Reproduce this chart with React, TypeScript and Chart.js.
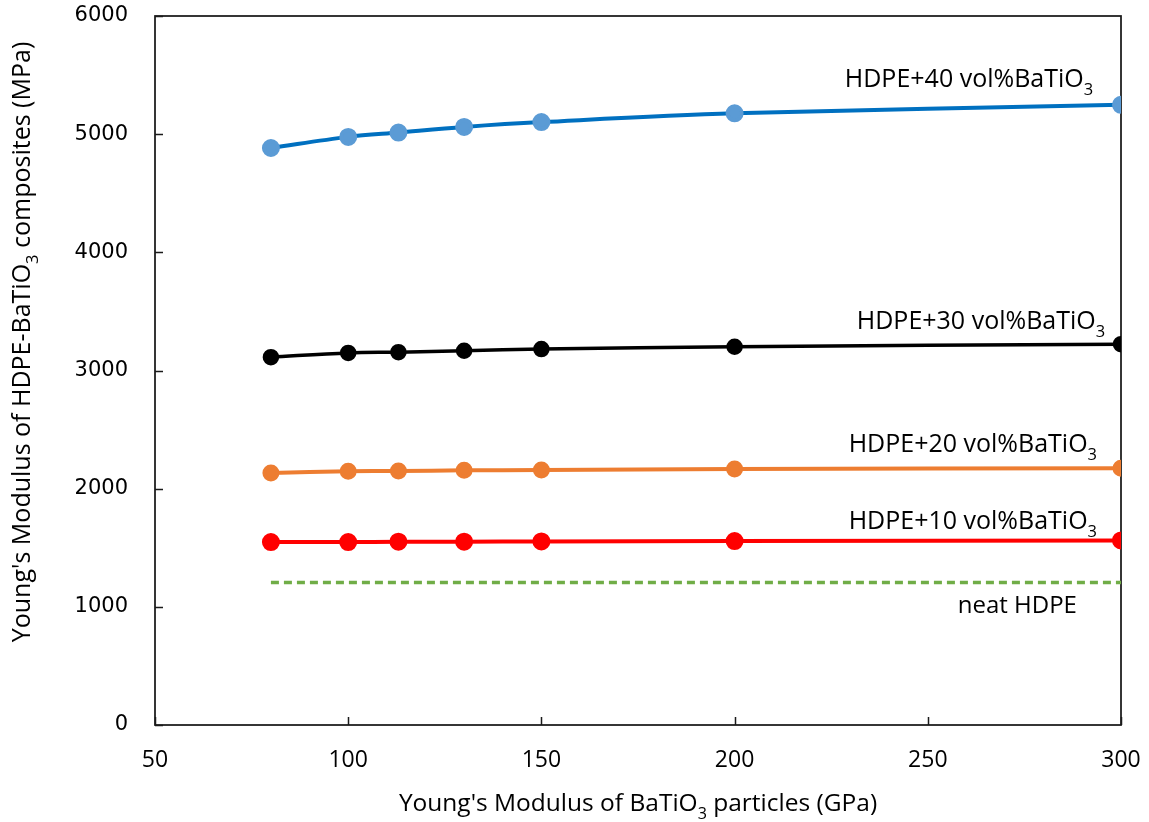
import React, { useEffect, useRef } from "react";
import { Chart, registerables } from "chart.js";

Chart.register(...registerables);

// ---- data ----
const xValues = [80, 100, 113, 130, 150, 200, 300];
const hdpe40 = [4883, 4977, 5014, 5061, 5102, 5176, 5248];
const hdpe30 = [3113, 3149, 3155, 3167, 3181, 3201, 3223];
const hdpe20 = [2133, 2147, 2150, 2155, 2158, 2167, 2172];
const hdpe10 = [1548, 1548, 1551, 1551, 1553, 1557, 1562];
const neatHdpe = [1205, 1205, 1205, 1205, 1205, 1205, 1205];

const xTickValues = [50, 100, 150, 200, 250, 300];
const yTickValues = [0, 1000, 2000, 3000, 4000, 5000, 6000];

const seriesNames = [
  "HDPE+40 vol%BaTiO3",
  "HDPE+30 vol%BaTiO3",
  "HDPE+20 vol%BaTiO3",
  "HDPE+10 vol%BaTiO3",
  "neat HDPE",
];

// label text parts (main, subscript) and anchor (right edge x, baseline y) in data units
const labelParts: [string, string][] = [
  ["HDPE+40 vol%BaTiO", "3"],
  ["HDPE+30 vol%BaTiO", "3"],
  ["HDPE+20 vol%BaTiO", "3"],
  ["HDPE+10 vol%BaTiO", "3"],
  ["neat HDPE", ""],
];
const labelAnchorX = [292.8, 295.9, 293.8, 293.8, 288.6];
const labelAnchorY = [5398, 3347, 2314, 1661, 949];
const labelSizes = [25, 25, 25, 25, 24];

const xTitleParts: [string, string, string] = ["Young's Modulus of BaTiO", "3", " particles (GPa)"];
const yTitleParts: [string, string, string] = ["Young's Modulus of HDPE-BaTiO", "3", " composites (MPa)"];

const MAIN_FONT = "'Open Sans', 'Noto Sans', sans-serif";

function drawSubText(
  ctx: CanvasRenderingContext2D,
  parts: string[],
  x: number,
  y: number,
  size: number,
  align: "left" | "right" | "center"
) {
  const subSize = size * 0.66;
  const widths: number[] = [];
  parts.forEach((p, i) => {
    ctx.font = `${i % 2 === 1 ? subSize : size}px ${MAIN_FONT}`;
    widths.push(ctx.measureText(p).width);
  });
  const total = widths.reduce((a, b) => a + b, 0);
  let cx = align === "left" ? x : align === "right" ? x - total : x - total / 2;
  ctx.textAlign = "left";
  ctx.textBaseline = "alphabetic";
  parts.forEach((p, i) => {
    const isSub = i % 2 === 1;
    ctx.font = `${isSub ? subSize : size}px ${MAIN_FONT}`;
    ctx.fillText(p, cx, isSub ? y + size * 0.32 : y);
    cx += widths[i];
  });
}

const overlayPlugin = {
  id: "overlay",
  beforeDatasetsDraw(chart: any) {
    const { ctx, chartArea } = chart;
    const xs = chart.scales.x;
    const ys = chart.scales.y;
    ctx.save();
    ctx.strokeStyle = "#1a1a1a";
    ctx.lineWidth = 1.75;
    ctx.strokeRect(chartArea.left, chartArea.top, chartArea.right - chartArea.left, chartArea.bottom - chartArea.top);
    ctx.lineWidth = 1.5;
    ctx.beginPath();
    yTickValues.forEach((v) => {
      const py = Math.round(ys.getPixelForValue(v)) + 0.5;
      ctx.moveTo(chartArea.left, py);
      ctx.lineTo(chartArea.left + 8, py);
    });
    xTickValues.forEach((v) => {
      const px = Math.round(xs.getPixelForValue(v)) + 0.5;
      ctx.moveTo(px, chartArea.bottom);
      ctx.lineTo(px, chartArea.bottom - 8);
    });
    ctx.stroke();
    ctx.restore();
  },
  afterDraw(chart: any) {
    const { ctx, chartArea } = chart;
    const xs = chart.scales.x;
    const ys = chart.scales.y;
    ctx.save();
    ctx.fillStyle = "#000";
    labelParts.forEach((parts, i) => {
      const px = xs.getPixelForValue(labelAnchorX[i]);
      const py = ys.getPixelForValue(labelAnchorY[i]);
      drawSubText(ctx, parts.filter((p, j) => j === 0 || p !== ""), px, py, labelSizes[i], "right");
    });
    // x title
    drawSubText(ctx, xTitleParts, (chartArea.left + chartArea.right) / 2, 811, 24.5, "center");
    // y title
    ctx.save();
    ctx.translate(30, 342);
    ctx.rotate(-Math.PI / 2);
    drawSubText(ctx, yTitleParts, 0, 0, 25, "center");
    ctx.restore();
    ctx.restore();
  },
};

function makeData(ys: number[]) {
  return xValues.map((x, i) => ({ x, y: ys[i] }));
}

export default function App() {
  const canvasRef = useRef<HTMLCanvasElement | null>(null);

  useEffect(() => {
    if (!canvasRef.current) return;
    const chart = new Chart(canvasRef.current, {
      type: "line",
      data: {
        datasets: [
          {
            label: seriesNames[0],
            data: makeData(hdpe40),
            borderColor: "#0070C0",
            backgroundColor: "#5B9BD5",
            pointBackgroundColor: "#5B9BD5",
            pointBorderColor: "#5B9BD5",
            borderWidth: 4,
            pointRadius: 7,
            tension: 0.35,
          },
          {
            label: seriesNames[1],
            data: makeData(hdpe30),
            borderColor: "#000000",
            backgroundColor: "#000000",
            pointBackgroundColor: "#000000",
            pointBorderColor: "#000000",
            borderWidth: 3.5,
            pointRadius: 6.5,
            tension: 0.35,
          },
          {
            label: seriesNames[2],
            data: makeData(hdpe20),
            borderColor: "#ED7D31",
            backgroundColor: "#ED7D31",
            pointBackgroundColor: "#ED7D31",
            pointBorderColor: "#ED7D31",
            borderWidth: 4,
            pointRadius: 6.5,
            tension: 0.35,
          },
          {
            label: seriesNames[3],
            data: makeData(hdpe10),
            borderColor: "#FF0000",
            backgroundColor: "#FF0000",
            pointBackgroundColor: "#FF0000",
            pointBorderColor: "#FF0000",
            borderWidth: 4,
            pointRadius: 7,
            tension: 0.35,
          },
          {
            label: seriesNames[4],
            data: makeData(neatHdpe),
            borderColor: "#70AD47",
            backgroundColor: "#70AD47",
            borderWidth: 3.5,
            borderDash: [8, 5],
            pointRadius: 0,
            tension: 0,
          },
        ],
      },
      options: {
        animation: false,
        responsive: false,
        maintainAspectRatio: false,
        layout: { padding: { left: 0, top: 16, right: 28, bottom: 0 } },
        plugins: {
          legend: { display: false },
          tooltip: { enabled: false },
          title: { display: false },
        },
        scales: {
          x: {
            type: "linear",
            min: 50,
            max: 300,
            grid: { display: false, drawTicks: false },
            border: { display: false },
            afterFit: (s: any) => {
              s.height = 97;
              s.paddingLeft = 0;
              s.paddingRight = 0;
              s.paddingTop = 0;
              s.paddingBottom = 0;
            },
            afterBuildTicks: (s: any) => {
              s.ticks = xTickValues.map((v) => ({ value: v }));
            },
            ticks: {
              padding: 22,
              color: "#000",
              font: { family: MAIN_FONT, size: 23 },
              maxRotation: 0,
              autoSkip: false,
            },
          },
          y: {
            type: "linear",
            min: 0,
            max: 6000,
            grid: { display: false, drawTicks: false },
            border: { display: false },
            afterFit: (s: any) => {
              s.width = 155;
              s.paddingLeft = 0;
              s.paddingRight = 0;
              s.paddingTop = 0;
              s.paddingBottom = 0;
            },
            afterBuildTicks: (s: any) => {
              s.ticks = yTickValues.map((v) => ({ value: v }));
            },
            ticks: {
              padding: 27,
              color: "#000",
              font: { family: "'DejaVu Sans', sans-serif", size: 21 },
              autoSkip: false,
              callback: (v: any) => String(v),
            },
          },
        },
      },
      plugins: [overlayPlugin],
    });
    return () => chart.destroy();
  }, []);

  return (
    <div style={{ position: "fixed", left: 0, top: 0, width: 1149, height: 822, background: "#fff" }}>
      <canvas ref={canvasRef} width={1149} height={822} style={{ width: 1149, height: 822, display: "block" }} />
    </div>
  );
}
